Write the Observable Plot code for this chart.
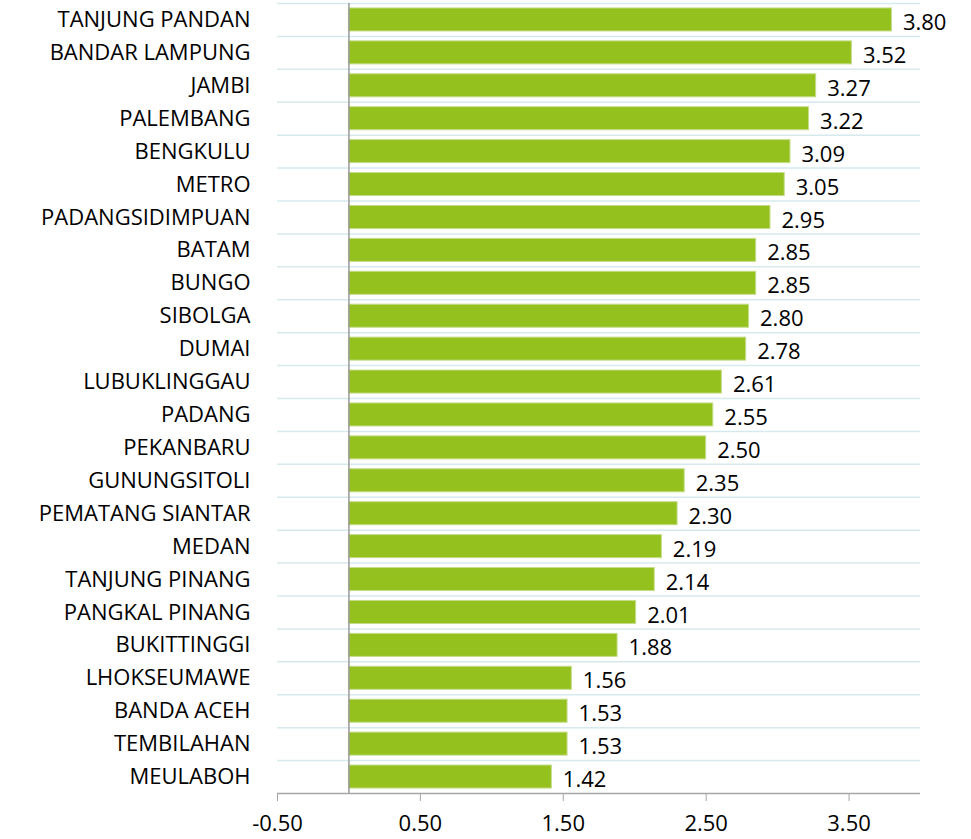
<!DOCTYPE html>
<html>
<head>
<meta charset="utf-8">
<script src="https://cdn.jsdelivr.net/npm/d3@7"></script>
<script src="https://cdn.jsdelivr.net/npm/@observablehq/plot@0.6"></script>
<style>
  html, body { margin: 0; padding: 0; background: #fff; }
  svg { display: block; }
</style>
</head>
<body>
<div id="chart"></div>
<script>
const cities = ["TANJUNG PANDAN","BANDAR LAMPUNG","JAMBI","PALEMBANG","BENGKULU","METRO","PADANGSIDIMPUAN","BATAM","BUNGO","SIBOLGA","DUMAI","LUBUKLINGGAU","PADANG","PEKANBARU","GUNUNGSITOLI","PEMATANG SIANTAR","MEDAN","TANJUNG PINANG","PANGKAL PINANG","BUKITTINGGI","LHOKSEUMAWE","BANDA ACEH","TEMBILAHAN","MEULABOH"];
const values = [3.80,3.52,3.27,3.22,3.09,3.05,2.95,2.85,2.85,2.80,2.78,2.61,2.55,2.50,2.35,2.30,2.19,2.14,2.01,1.88,1.56,1.53,1.53,1.42];
const xTicks = [-0.5, 0.5, 1.5, 2.5, 3.5];

const data = cities.map((c, i) => ({city: c, value: values[i]}));

const W = 971, H = 839, mt = 3, mb = 46;
const step = (H - mt - mb) / cities.length;

const chart = Plot.plot({
  width: W,
  height: H,
  marginLeft: 277,
  marginRight: 51,
  marginTop: mt,
  marginBottom: mb,
  style: {fontFamily: "'Open Sans', sans-serif", fontSize: "22px", color: "#000", background: "#fff"},
  x: {domain: [-0.5, 4.0], axis: null},
  y: {domain: cities, paddingInner: 0.3, paddingOuter: 0.15, round: false, axis: null},
  marks: [
    Plot.ruleY(cities, {y: d => d, dy: -step / 2, stroke: "#d6eaee", strokeWidth: 1.5}),
    Plot.barX(data, {y: "city", x1: 0, x2: "value", fill: "#95c11f", stroke: "#c5dd8a", strokeWidth: 1}),
    Plot.ruleX([0], {stroke: "#9a9a9a", strokeWidth: 1.5}),
    Plot.ruleY([cities[cities.length - 1]], {y: d => d, dy: step / 2, stroke: "#a6a6a6", strokeWidth: 1.5}),
    Plot.text(data, {y: "city", x: "value", text: d => d.value.toFixed(2), textAnchor: "start", dx: 11, dy: 3, fill: "#000", fontSize: 22}),
    Plot.text(data, {y: "city", x: -0.5, text: "city", textAnchor: "end", dx: -27, fill: "#000", fontSize: 22}),
    Plot.axisX({ticks: xTicks, tickFormat: d => d.toFixed(2), tickSize: 8, tickPadding: 14, stroke: "#a6a6a6", fontSize: 22, color: "#000", anchor: "bottom", label: null})
  ]
});
document.getElementById("chart").appendChild(chart);
</script>
</body>
</html>
